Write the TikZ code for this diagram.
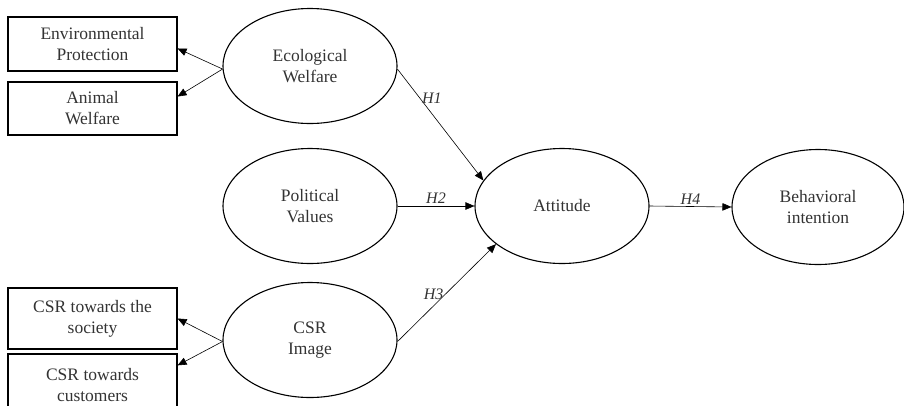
\documentclass[tikz,border=0pt]{standalone}
\usepackage{fontspec}
\setmainfont{Liberation Serif}
\usepackage{tikz}
\usetikzlibrary{shapes.geometric}
\usetikzlibrary{arrows.meta}

\begin{document}
\begin{tikzpicture}[x=1pt, y=-1pt,
    every node/.style={font=\fontsize{17.5}{21}\selectfont, text=black!80},
    latent/.style={draw, line width=1.1pt, ellipse, minimum width=174pt, minimum height=115pt, inner sep=0pt, align=center},
    indicator/.style={draw, line width=1.1pt, rectangle, minimum width=169pt, inner sep=0pt, align=center},
    hyp/.style={-{Triangle[length=9pt,width=7.5pt]}, line width=0.6pt},
    lab/.style={font=\fontsize{16}{19}\selectfont\itshape, inner sep=2pt}]

            \useasboundingbox (0,0) rectangle (904,405);

            \node[latent] (eco) at (310,66) {Ecological\\Welfare};
            \node[latent] (pol) at (310,206) {Political\\Values};
            \node[latent] (csr) at (310,340) {CSR\\Image};
            \node[latent] (att) at (562,206) {Attitude};
            \node[latent, minimum width=172pt] (beh) at (818,207) {Behavioral\\intention};

            \node[indicator, minimum height=54pt] (env) at (92.5,44) {Environmental\\Protection};
            \node[indicator, minimum height=53pt] (ani) at (92.5,108.5) {Animal\\Welfare};
            \node[indicator, minimum height=61pt] (soc) at (92.5,318.5) {CSR towards the\\society};
            \node[indicator, minimum height=62pt] (cus) at (92.5,385) {CSR towards\\customers};

            \draw[hyp] (eco.182) -- (env.-3);
            \draw[hyp] (eco.182) -- (ani.8);
            \draw[hyp] (csr.181) -- (soc.east);
            \draw[hyp] (csr.181) -- (cus.13);

            \draw[hyp] (eco.-2) -- node[lab, pos=0.26, right] {H1} (att.162);
            \draw[hyp] (pol.east) -- node[lab, midway, above] {H2} (att.west);
            \draw[hyp] (csr.-1) -- node[lab, pos=0.48, left, inner sep=1pt] {H3} (att.210);
            \draw[hyp] (att.east) -- node[lab, midway, above] {H4} (beh.west);

          \end{tikzpicture}
\end{document}
